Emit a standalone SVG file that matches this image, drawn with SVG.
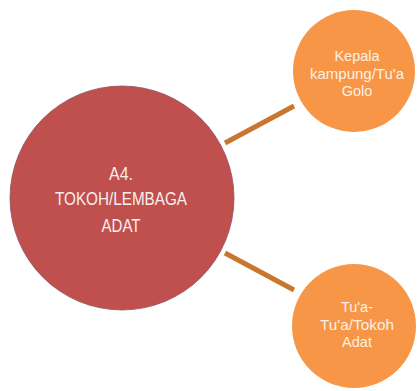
<svg xmlns="http://www.w3.org/2000/svg" width="417" height="391" viewBox="0 0 417 391">
  <style>
    .main { fill: #C0504D; stroke: #8E5366; stroke-width: 0.8; }
    .leaf { fill: #F79646; }
    .link { stroke: #C97630; stroke-width: 5; stroke-linecap: butt; fill: none; }
    .t-main { font-family: "Liberation Sans", Arial, sans-serif; font-size: 18px; fill: #F7EEEE; text-anchor: middle; }
    .t-leaf { font-family: "Liberation Sans", Arial, sans-serif; font-size: 14.5px; fill: #FDF0E4; text-anchor: middle; }
  </style>
  <rect width="417" height="391" fill="#FFFFFF"/>

  <!-- connectors from the centre node to the two leaves -->
  <g id="connectors">
    <line class="link" x1="225" y1="143" x2="294" y2="106"/>
    <line class="link" x1="225" y1="253" x2="294" y2="290"/>
  </g>

  <!-- centre node -->
  <g id="node-tokoh-lembaga-adat">
    <circle class="main" cx="122" cy="198" r="112"/>
    <text class="t-main" x="121" y="180" textLength="24" lengthAdjust="spacingAndGlyphs">A4.</text>
    <text class="t-main" x="121" y="205" textLength="132" lengthAdjust="spacingAndGlyphs">TOKOH/LEMBAGA</text>
    <text class="t-main" x="121" y="232" textLength="39" lengthAdjust="spacingAndGlyphs">ADAT</text>
  </g>

  <!-- upper leaf -->
  <g id="node-kepala-kampung">
    <circle class="leaf" cx="354" cy="71" r="61"/>
    <text class="t-leaf" x="357" y="61">Kepala</text>
    <text class="t-leaf" x="357" y="78.5" textLength="94" lengthAdjust="spacingAndGlyphs">kampung/Tu'a</text>
    <text class="t-leaf" x="357" y="96">Golo</text>
  </g>

  <!-- lower leaf -->
  <g id="node-tokoh-adat">
    <circle class="leaf" cx="354" cy="326" r="62"/>
    <text class="t-leaf" x="357" y="312">Tu'a-</text>
    <text class="t-leaf" x="357" y="329.5" textLength="74" lengthAdjust="spacingAndGlyphs">Tu'a/Tokoh</text>
    <text class="t-leaf" x="357" y="347">Adat</text>
  </g>
</svg>
